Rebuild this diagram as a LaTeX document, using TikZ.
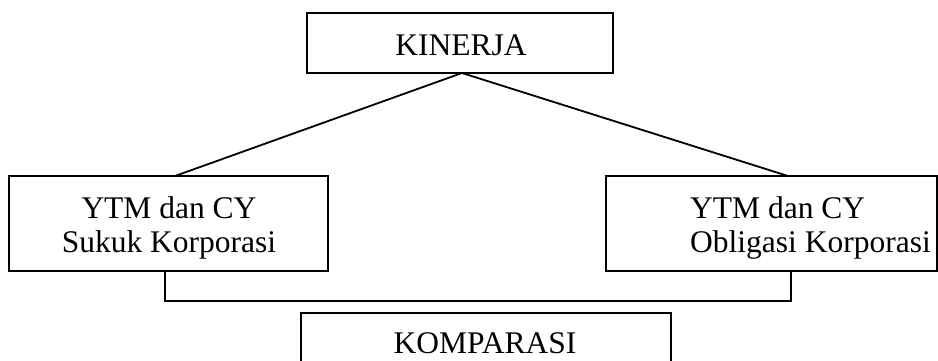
\documentclass[tikz,border=0pt]{standalone}
\usepackage{fontspec}
\setmainfont{Liberation Serif}
\begin{document}
\begin{tikzpicture}[x=1pt,y=-1pt,
  box/.style={draw=black, line width=1.8pt, fill=none, inner sep=0pt},
  lbl/.style={inner sep=0pt, font=\fontsize{31.5}{34}\selectfont},
  conn/.style={draw=black, line width=1.8pt}]
\useasboundingbox (0,0) rectangle (938,360);
\clip (0,0) rectangle (938,360);
% boxes
\node[box, minimum width=306pt, minimum height=60pt] (kin) at (460,43) {};
\node[box, minimum width=319pt, minimum height=95pt] (suk) at (168.5,223.5) {};
\node[box, minimum width=331pt, minimum height=95pt] (obl) at (771.5,223.5) {};
\node[box, minimum width=370pt, minimum height=80pt] (kom) at (486,353) {};
% labels
\node[lbl, anchor=base] (tkin) at (461,55) {KINERJA};
\node[lbl, anchor=base, align=center] (tsuk) at (169,252) {YTM dan CY\\Sukuk Korporasi};
\node[lbl, anchor=base west, align=left] (tobl) at (690,252) {YTM dan CY\\Obligasi Korporasi};
\node[lbl, anchor=base] (tkom) at (485,353) {KOMPARASI};
% connectors
\coordinate (apex) at (462,73);
\coordinate (sukTop) at (175,176);
\coordinate (oblTop) at (788,176);
\coordinate (sukBot) at (165,271);
\coordinate (oblBot) at (791,271);
\draw[conn] (sukTop) -- (apex) -- (oblTop);
\draw[conn] (sukBot) -- (165,301) -- (791,301) -- (oblBot);
\end{tikzpicture}
\end{document}
